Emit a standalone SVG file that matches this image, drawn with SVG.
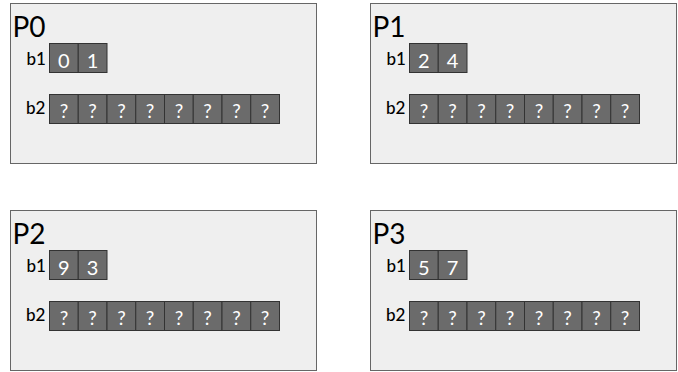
<svg xmlns="http://www.w3.org/2000/svg" width="678" height="372" viewBox="0 0 678 372">
<style>
.box{fill:#efefef;stroke:#666;stroke-width:1}
.cell{fill:#6b6b6b;stroke:#333;stroke-width:1}
.title{font-family:Lato,"Liberation Sans",sans-serif;font-size:28px;fill:#000}
.lbl{font-family:Lato,"Liberation Sans",sans-serif;font-size:17px;font-weight:500;fill:#000}
.num{font-family:Lato,"Liberation Sans",sans-serif;font-size:20px;fill:#fff;text-anchor:middle}
.q{font-family:Lato,"Liberation Sans",sans-serif;font-size:19px;fill:#fff;text-anchor:middle}
</style>
<defs>
<g id="b2row">
<rect class="cell" x="0" y="0" width="28.75" height="29"/>
<rect class="cell" x="28.75" y="0" width="28.75" height="29"/>
<rect class="cell" x="57.5" y="0" width="28.75" height="29"/>
<rect class="cell" x="86.25" y="0" width="28.75" height="29"/>
<rect class="cell" x="115" y="0" width="28.75" height="29"/>
<rect class="cell" x="143.75" y="0" width="28.75" height="29"/>
<rect class="cell" x="172.5" y="0" width="28.75" height="29"/>
<rect class="cell" x="201.25" y="0" width="28.75" height="29"/>
<text class="q" x="14.4" y="23">?</text>
<text class="q" x="43.1" y="23">?</text>
<text class="q" x="71.9" y="23">?</text>
<text class="q" x="100.6" y="23">?</text>
<text class="q" x="129.4" y="23">?</text>
<text class="q" x="158.1" y="23">?</text>
<text class="q" x="186.9" y="23">?</text>
<text class="q" x="215.6" y="23">?</text>
</g>
<g id="b1row">
<rect class="cell" x="0" y="0" width="28.75" height="29"/>
<rect class="cell" x="28.75" y="0" width="28.75" height="29"/>
</g>
</defs>
<g id="P0" transform="translate(10.5,3.5)">
<rect class="box" x="0" y="0" width="306" height="160"/>
<text class="title" x="2" y="33">P0</text>
<text class="lbl" x="16" y="61">b1</text>
<use href="#b1row" x="39" y="40"/>
<text class="num" x="53.4" y="64">0</text>
<text class="num" x="82.1" y="64">1</text>
<text class="lbl" x="15.5" y="110">b2</text>
<use href="#b2row" x="39" y="91"/>
</g>
<g id="P1" transform="translate(370.5,3.5)">
<rect class="box" x="0" y="0" width="306" height="160"/>
<text class="title" x="2" y="33">P1</text>
<text class="lbl" x="16" y="61">b1</text>
<use href="#b1row" x="39" y="40"/>
<text class="num" x="53.4" y="64">2</text>
<text class="num" x="82.1" y="64">4</text>
<text class="lbl" x="15.5" y="110">b2</text>
<use href="#b2row" x="39" y="91"/>
</g>
<g id="P2" transform="translate(10.5,210.5)">
<rect class="box" x="0" y="0" width="306" height="160"/>
<text class="title" x="2" y="33">P2</text>
<text class="lbl" x="16" y="61">b1</text>
<use href="#b1row" x="39" y="40"/>
<text class="num" x="53.4" y="64">9</text>
<text class="num" x="82.1" y="64">3</text>
<text class="lbl" x="15.5" y="110">b2</text>
<use href="#b2row" x="39" y="91"/>
</g>
<g id="P3" transform="translate(370.5,210.5)">
<rect class="box" x="0" y="0" width="306" height="160"/>
<text class="title" x="2" y="33">P3</text>
<text class="lbl" x="16" y="61">b1</text>
<use href="#b1row" x="39" y="40"/>
<text class="num" x="53.4" y="64">5</text>
<text class="num" x="82.1" y="64">7</text>
<text class="lbl" x="15.5" y="110">b2</text>
<use href="#b2row" x="39" y="91"/>
</g>
<g id="connectors"></g>
</svg>
